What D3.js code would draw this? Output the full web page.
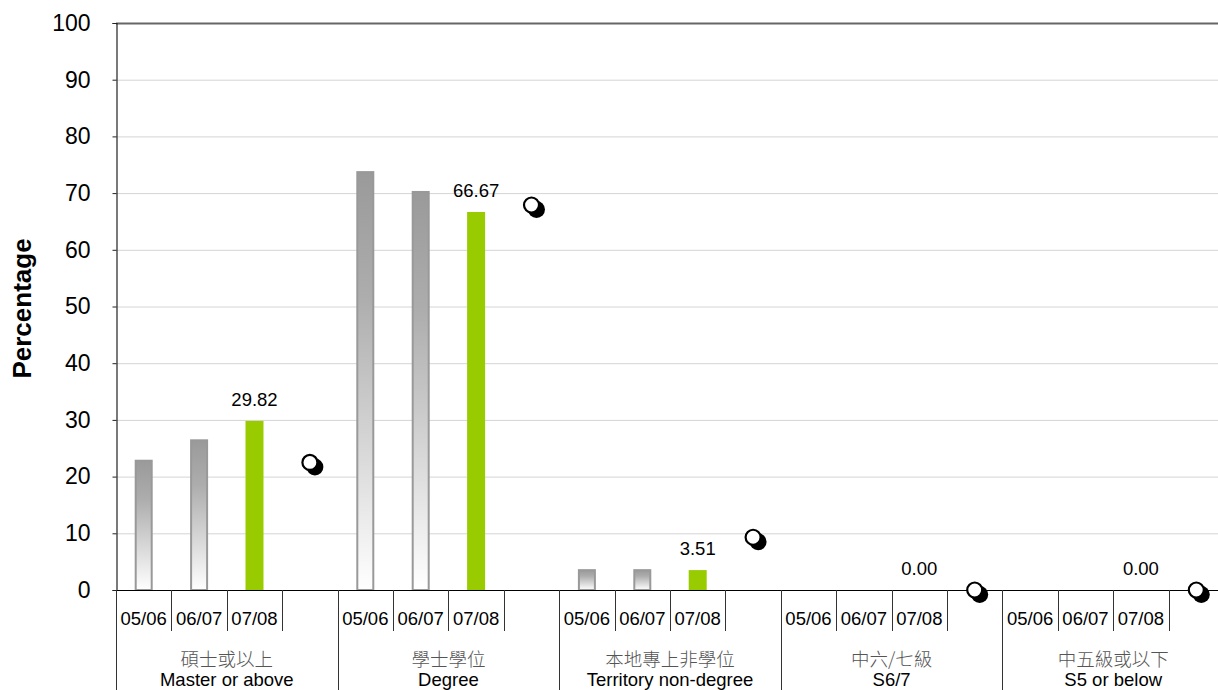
<!DOCTYPE html>
<html><head><meta charset="utf-8">
<script src="https://cdn.jsdelivr.net/npm/d3@7"></script>
<style>
body{margin:0;background:#fff;}
svg{display:block;font-family:"Liberation Sans",Arial,sans-serif;}
</style></head>
<body>
<svg id="chart" width="1218" height="690"></svg>
<script>
const categoriesZh = ["碩士或以上","學士學位","本地專上非學位","中六/七級","中五級或以下"];
const categoriesEn = ["Master or above","Degree","Territory non-degree","S6/7","S5 or below"];
const years = ["05/06","06/07","07/08"];
const values0506 = [22.8, 73.7, 3.5, 0, 0];
const values0607 = [26.4, 70.2, 3.5, 0, 0];
const values0708 = [29.82, 66.67, 3.51, 0.00, 0.00];
const markerValues = [22.5, 67.9, 9.3, 0, 0];
const yTicks = [0,10,20,30,40,50,60,70,80,90,100];

const svg = d3.select("#chart");
const mLeft = 116, mTop = 23, mBottom = 590, mRight = 1224;

const y = d3.scaleLinear().domain([0,100]).range([mBottom, mTop]);
const xGroup = d3.scaleBand().domain(categoriesEn).range([mLeft, mRight]).padding(0);
const slots = ["05/06","06/07","07/08","marker"];
const xSlot = d3.scaleBand().domain(slots).range([0, xGroup.bandwidth()]).padding(0);

const defs = svg.append("defs");
const grad = defs.append("linearGradient").attr("id","grayGrad").attr("x1",0).attr("y1",0).attr("x2",0).attr("y2",1);
grad.append("stop").attr("offset","0%").attr("stop-color","#9a9a9a");
grad.append("stop").attr("offset","30%").attr("stop-color","#adadad");
grad.append("stop").attr("offset","100%").attr("stop-color","#ffffff");

// gridlines
svg.append("g").selectAll("line").data(yTicks.filter(d=>d>0)).join("line")
  .attr("x1", mLeft).attr("x2", 1218)
  .attr("y1", d=>y(d)+0.5).attr("y2", d=>y(d)+0.5)
  .attr("stroke", d=> d===100 ? "#666" : "#d4d4d4")
  .attr("stroke-width", d=> d===100 ? 2 : 1);

// y axis
const yAxis = d3.axisLeft(y).tickValues(yTicks).tickSize(4).tickPadding(22).tickFormat(d3.format("d"));
const gy = svg.append("g").attr("transform",`translate(${mLeft+0.5},0)`).call(yAxis);
gy.select(".domain").attr("stroke","#222").attr("stroke-width",1.2);
gy.selectAll(".tick line").attr("stroke","#222");
gy.selectAll(".tick text").attr("font-size",23).attr("fill","#000").attr("font-family","Liberation Sans, Arial, sans-serif");

svg.append("text").attr("transform",`translate(31,${(mTop+mBottom)/2+2}) rotate(-90)`)
  .attr("text-anchor","middle").attr("font-size",26).attr("font-weight","bold").text("Percentage");

// series data
const series = [values0506, values0607, values0708];
const barData = [];
categoriesEn.forEach((c,i)=>{
  years.forEach((yr,j)=>{
    barData.push({cat:c, year:yr, value:series[j][i], latest: j===2});
  });
});
const barW = 16;
const bars = svg.append("g");
bars.selectAll("rect").data(barData.filter(d=>d.value>0)).join("rect")
  .attr("x", d=> xGroup(d.cat)+xSlot(d.year)+xSlot.bandwidth()/2 - barW/2 + (d.latest?-1:0))
  .attr("y", d=> y(d.value))
  .attr("width", d=> d.latest ? barW+2 : barW)
  .attr("height", d=> y(0)-y(d.value))
  .attr("fill", d=> d.latest ? "#99cc00" : "url(#grayGrad)")
  .attr("stroke", d=> d.latest ? "none" : "#999")
  .attr("stroke-width", 2);

// value labels for latest year
svg.append("g").selectAll("text").data(barData.filter(d=>d.latest)).join("text")
  .attr("x", d=> xGroup(d.cat)+xSlot(d.year)+xSlot.bandwidth()/2)
  .attr("y", d=> y(d.value)-15)
  .attr("text-anchor","middle").attr("font-size",18.5).attr("fill","#000")
  .text(d=> d3.format(".2f")(d.value));

// x axis line
svg.append("line").attr("x1",mLeft).attr("x2",1218).attr("y1",mBottom+0.5).attr("y2",mBottom+0.5)
  .attr("stroke","#000").attr("stroke-width",1.2);

// slot separators & labels
const sepData = [];
categoriesEn.forEach(c=>{
  slots.forEach((s,k)=>{ if(k>0) sepData.push(xGroup(c)+xSlot(s)); });
});
svg.append("g").selectAll("line").data(sepData).join("line")
  .attr("x1",d=>Math.round(d)+0.5).attr("x2",d=>Math.round(d)+0.5)
  .attr("y1",mBottom).attr("y2",631).attr("stroke","#333").attr("stroke-width",1);
svg.append("g").selectAll("line").data(categoriesEn).join("line")
  .attr("x1",d=>Math.round(xGroup(d))+0.5).attr("x2",d=>Math.round(xGroup(d))+0.5)
  .attr("y1",mBottom).attr("y2",690).attr("stroke","#333").attr("stroke-width",1);

const yearLabels = [];
categoriesEn.forEach(c=> years.forEach(yr=> yearLabels.push({cat:c, year:yr})));
svg.append("g").selectAll("text").data(yearLabels).join("text")
  .attr("x", d=> xGroup(d.cat)+xSlot(d.year)+xSlot.bandwidth()/2)
  .attr("y", 625).attr("text-anchor","middle").attr("font-size",18.5).attr("fill","#000")
  .text(d=>d.year);

svg.append("g").selectAll("text").data(categoriesZh).join("text")
  .attr("x",(d,i)=> xGroup(categoriesEn[i])+xGroup.bandwidth()/2 - 0)
  .attr("y",666).attr("text-anchor","middle").attr("font-size",18.5).attr("fill","#555")
  .attr("font-family","Noto Sans CJK TC, sans-serif").attr("font-weight",300)
  .text(d=>d);
svg.append("g").selectAll("text").data(categoriesEn).join("text")
  .attr("x",d=> xGroup(d)+xGroup.bandwidth()/2)
  .attr("y",686).attr("text-anchor","middle").attr("font-size",18.5).attr("fill","#000")
  .text(d=>d);

// markers
const mk = svg.append("g");
const mData = categoriesEn.map((c,i)=>({cat:c, value:markerValues[i]}));
mk.selectAll("circle.shadow").data(mData).join("circle").attr("class","shadow")
  .attr("cx", d=> xGroup(d.cat)+xSlot("marker")+xSlot.bandwidth()/2 + 5)
  .attr("cy", d=> y(d.value)+4.5).attr("r",8.5).attr("fill","#000");
mk.selectAll("circle.dot").data(mData).join("circle").attr("class","dot")
  .attr("cx", d=> xGroup(d.cat)+xSlot("marker")+xSlot.bandwidth()/2)
  .attr("cy", d=> y(d.value)).attr("r",7.5).attr("fill","#fff").attr("stroke","#000").attr("stroke-width",2.2);
</script>
</body></html>
